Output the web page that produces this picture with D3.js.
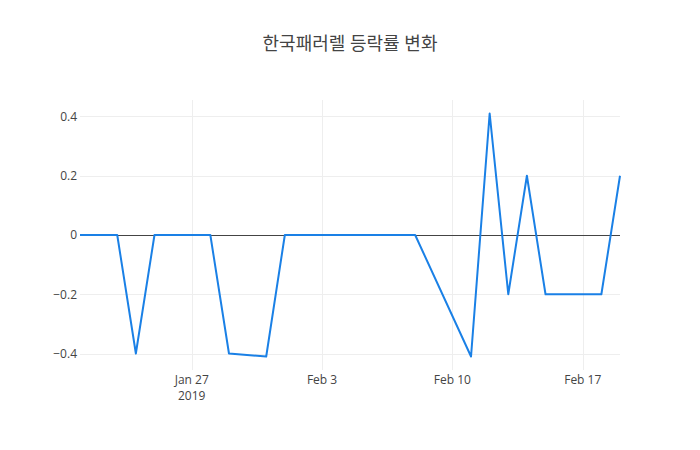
<!DOCTYPE html>
<html>
<head>
<meta charset="utf-8">
<script src="https://cdn.jsdelivr.net/npm/d3@7"></script>
<style>
  body { margin: 0; background: #fff; }
  svg { font-family: "Open Sans", "Noto Sans CJK KR", sans-serif; }
</style>
</head>
<body>
<svg id="chart" width="700" height="450"></svg>
<script>
// chart data
var titleText = "한국패러렐 등락률 변화";
var dates = ["2019-01-21", "2019-01-22", "2019-01-23", "2019-01-24", "2019-01-25",
             "2019-01-28", "2019-01-29", "2019-01-31", "2019-02-01",
             "2019-02-07", "2019-02-08", "2019-02-11", "2019-02-12", "2019-02-13",
             "2019-02-14", "2019-02-15", "2019-02-18", "2019-02-19"];
var rates = [0, 0, 0, -0.40, 0,
             0, -0.40, -0.41, 0,
             0, 0, -0.41, 0.41, -0.20,
             0.20, -0.20, -0.20, 0.20];
var yTicks = [-0.4, -0.2, 0, 0.2, 0.4];
var xTicks = ["2019-01-27", "2019-02-03", "2019-02-10", "2019-02-17"];

var parseDate = d3.timeParse("%Y-%m-%d");
var data = dates.map(function(d, i) { return { date: parseDate(d), val: rates[i] }; });

var svg = d3.select("#chart"),
    margin = {top: 100, right: 80, bottom: 80, left: 80},
    width = +svg.attr("width") - margin.left - margin.right,
    height = +svg.attr("height") - margin.top - margin.bottom;

svg.append("text")
    .attr("x", 350)
    .attr("y", 50)
    .attr("text-anchor", "middle")
    .attr("fill", "#444")
    .style("font-size", "18px")
    .text(titleText);

var g = svg.append("g").attr("transform", "translate(" + margin.left + "," + margin.top + ")");

var x = d3.scaleTime().range([0, width]).domain(d3.extent(data, function(d) { return d.date; }));
var yMax = d3.max(data, function(d) { return Math.abs(d.val); });
var pad = yMax * 2 * 0.0556;
var y = d3.scaleLinear().range([height, 0]).domain([-yMax - pad, yMax + pad]);

// grid
g.selectAll(".ygrid").data(yTicks.filter(function(t) { return t !== 0; }))
  .enter().append("line")
    .attr("x1", 0).attr("x2", width)
    .attr("y1", function(d) { return Math.round(y(d)) + 0.5; })
    .attr("y2", function(d) { return Math.round(y(d)) + 0.5; })
    .attr("stroke", "#eee").attr("stroke-width", 1);

var xTickDates = xTicks.map(parseDate);
g.selectAll(".xgrid").data(xTickDates)
  .enter().append("line")
    .attr("x1", function(d) { return Math.round(x(d)) + 0.5; })
    .attr("x2", function(d) { return Math.round(x(d)) + 0.5; })
    .attr("y1", 0).attr("y2", height)
    .attr("stroke", "#eee").attr("stroke-width", 1);

// zero line
g.append("line")
    .attr("x1", 0).attr("x2", width)
    .attr("y1", Math.round(y(0)) + 0.5).attr("y2", Math.round(y(0)) + 0.5)
    .attr("stroke", "#444").attr("stroke-width", 1);

// y labels
var yAxis = d3.axisLeft(y).tickValues(yTicks).tickSize(0).tickPadding(3)
    .tickFormat(function(d) { return d === 0 ? "0" : d3.format(".1f")(d); });
var ya = g.append("g").call(yAxis);
ya.select(".domain").remove();
ya.selectAll("text").attr("fill", "#444").style("font-size", "12px")
    .style("font-family", "'Open Sans', sans-serif");

// x labels
var monthFmt = d3.timeFormat("%b %-d");
var xa = g.append("g").attr("transform", "translate(0," + height + ")");
var xl = xa.selectAll(".xl").data(xTickDates).enter().append("text")
    .attr("x", function(d) { return x(d); })
    .attr("y", 14)
    .attr("text-anchor", "middle")
    .attr("fill", "#444")
    .style("font-size", "12px");
xl.append("tspan").attr("x", function(d) { return x(d); }).text(function(d) { return monthFmt(d); });
xl.filter(function(d, i) { return i === 0; })
  .append("tspan").attr("x", function(d) { return x(d); }).attr("dy", "1.3em")
  .text(function(d) { return d3.timeFormat("%Y")(d); });

// line
var line = d3.line()
    .x(function(d) { return x(d.date); })
    .y(function(d) { return y(d.val); });

g.append("path")
    .datum(data)
    .attr("fill", "none")
    .attr("stroke", "#1a80e6")
    .attr("stroke-width", 2)
    .attr("stroke-linejoin", "round")
    .attr("d", line);
</script>
</body>
</html>
